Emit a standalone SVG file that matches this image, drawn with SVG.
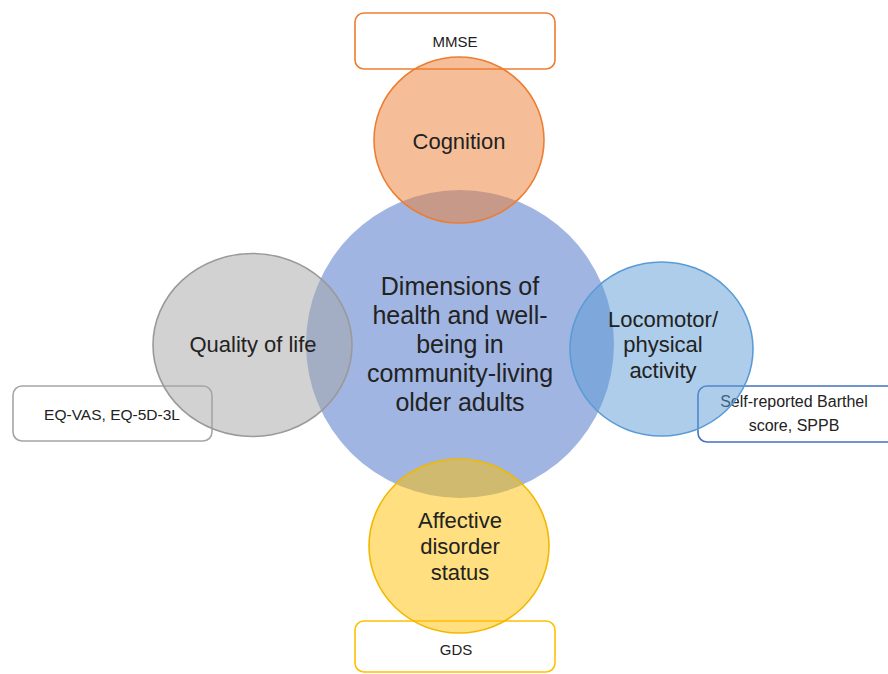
<svg xmlns="http://www.w3.org/2000/svg" width="888" height="674" viewBox="0 0 888 674">
  <style>
    text { font-family: "Liberation Sans", Arial, sans-serif; fill: #222; text-anchor: middle; }
    .big { font-size: 25px; }
    .mid { font-size: 22px; }
    .small { font-size: 15px; }
    .box { fill: #fff; stroke-width: 1.6; }
    .sat { stroke-width: 1.6; fill-opacity: 0.5; }
  </style>
  <rect width="888" height="674" fill="#fff"/>

  <!-- measurement boxes (drawn beneath the circles) -->
  <g id="box-mmse">
    <rect class="box" x="355" y="13" width="200" height="56" rx="9" stroke="#ED7D31"/>
    <text class="small" x="455" y="47">MMSE</text>
  </g>
  <g id="box-eq">
    <rect class="box" x="13" y="386" width="199" height="55" rx="9" stroke="#A5A5A5"/>
    <text class="small" style="font-size:15.5px" x="112" y="420">EQ-VAS, EQ-5D-3L</text>
  </g>
  <g id="box-barthel">
    <rect class="box" x="698" y="386" width="200" height="56" rx="9" stroke="#4472C4"/>
    <text class="small" style="font-size:16px" x="794" y="407">Self-reported Barthel</text>
    <text class="small" style="font-size:16px" x="794" y="431">score, SPPB</text>
  </g>
  <g id="box-gds">
    <rect class="box" x="355" y="621" width="200" height="51" rx="9" stroke="#FFC000"/>
    <text class="small" x="456" y="655">GDS</text>
  </g>

  <!-- central dimension -->
  <g id="center">
    <circle cx="460" cy="344" r="154" fill="#A0B5E1"/>
    <text class="big" x="460" y="295">Dimensions of</text>
    <text class="big" x="460" y="324">health and well-</text>
    <text class="big" x="460" y="353">being in</text>
    <text class="big" x="460" y="382">community-living</text>
    <text class="big" x="460" y="411">older adults</text>
  </g>

  <!-- surrounding dimensions, semi-transparent over the centre -->
  <g id="cognition">
    <ellipse class="sat" cx="459" cy="140" rx="85" ry="83" fill="#ED7D31" stroke="#ED7D31"/>
    <text class="mid" x="459" y="149">Cognition</text>
  </g>
  <g id="quality-of-life">
    <ellipse class="sat" cx="252.5" cy="345" rx="99.5" ry="91.5" fill="#A5A5A5" stroke="#9A9A9A"/>
    <text class="mid" x="253" y="352">Quality of life</text>
  </g>
  <g id="locomotor">
    <ellipse class="sat" cx="661.5" cy="349" rx="91.5" ry="87" fill="#5B9BD5" stroke="#5B9BD5"/>
    <text class="mid" x="663" y="327">Locomotor/</text>
    <text class="mid" x="663" y="352">physical</text>
    <text class="mid" x="663" y="378">activity</text>
  </g>
  <g id="affective">
    <ellipse class="sat" cx="459" cy="546" rx="90" ry="87" fill="#FFC000" stroke="#F2B800"/>
    <text class="mid" x="460" y="528">Affective</text>
    <text class="mid" x="460" y="554">disorder</text>
    <text class="mid" x="460" y="580">status</text>
  </g>

  <g id="connectors"/>
</svg>
